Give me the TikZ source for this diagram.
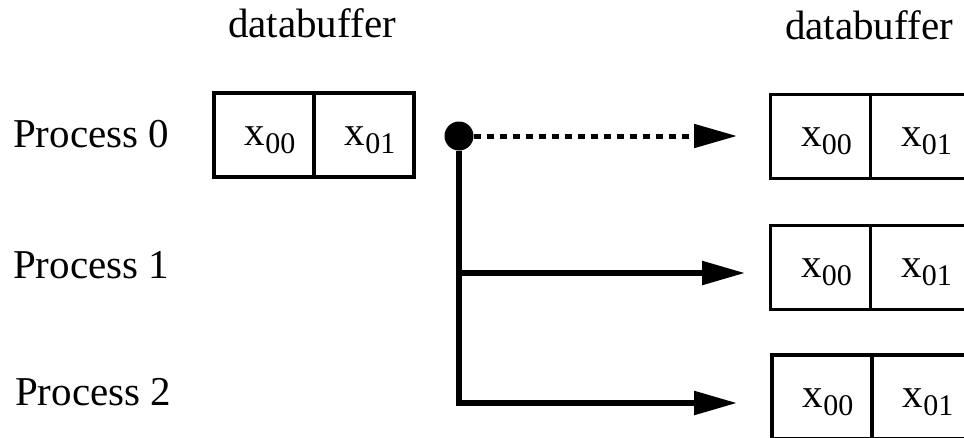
\documentclass[tikz,border=0pt]{standalone}
\usepackage{fontspec}
\setmainfont{Liberation Serif}
\usepackage{tikz}
\usetikzlibrary{arrows.meta,positioning}
\newcommand{\xval}[1]{\kern12pt x\raisebox{-8pt}{\fontsize{30pt}{30pt}\selectfont #1}}

\begin{document}
\begin{tikzpicture}[x=1pt, y=-1pt, font=\fontsize{41pt}{41pt}\selectfont,
  cell/.style={draw, line width=3.5pt, minimum width=100pt, minimum height=84pt, inner sep=0pt, text height=20pt, text depth=0pt},
  flow/.style={line width=5.5pt, -{Triangle[length=43pt, width=23pt]}}]
  \useasboundingbox (0,0) rectangle (964,437);
  % labels
  \node[anchor=base] (lbuf) at (312,37) {databuffer};
  \node[anchor=base] (rbuf) at (869,39) {databuffer};
  \node[anchor=base west, inner sep=0pt] (p0) at (13,147) {Process 0};
  \node[anchor=base west, inner sep=0pt] (p1) at (13,278) {Process 1};
  \node[anchor=base west, inner sep=0pt] (p2) at (15,405) {Process 2};
  % buffer of process 0 before
  \node[cell] (s0) at (264,135) {\xval{00}};
  \node[cell] (s1) at (364,135) {\xval{01}};
  % buffers after the broadcast
  \node[cell] (a0) at (820.5,136.5) {\xval{00}};
  \node[cell] (a1) at (920.5,136.5) {\xval{01}};
  \node[cell] (b0) at (820.5,267.5) {\xval{00}};
  \node[cell] (b1) at (920.5,267.5) {\xval{01}};
  \node[cell] (c0) at (822,397) {\xval{00}};
  \node[cell] (c1) at (922,397) {\xval{01}};
  % broadcast
  \node[circle, fill, inner sep=0pt, minimum size=29pt] (root) at (459,136) {};
  \coordinate (j1) at (459,273);
  \coordinate (e0) at (737,136);
  \coordinate (e1) at (745,273);
  \coordinate (e2) at (737,403);
  \draw[flow, line width=5pt, dash pattern=on 7pt off 6pt] (root) -- (e0);
  \draw[flow] (root) |- (e2);
  \draw[flow] (j1) -- (e1);
\end{tikzpicture}
\end{document}
